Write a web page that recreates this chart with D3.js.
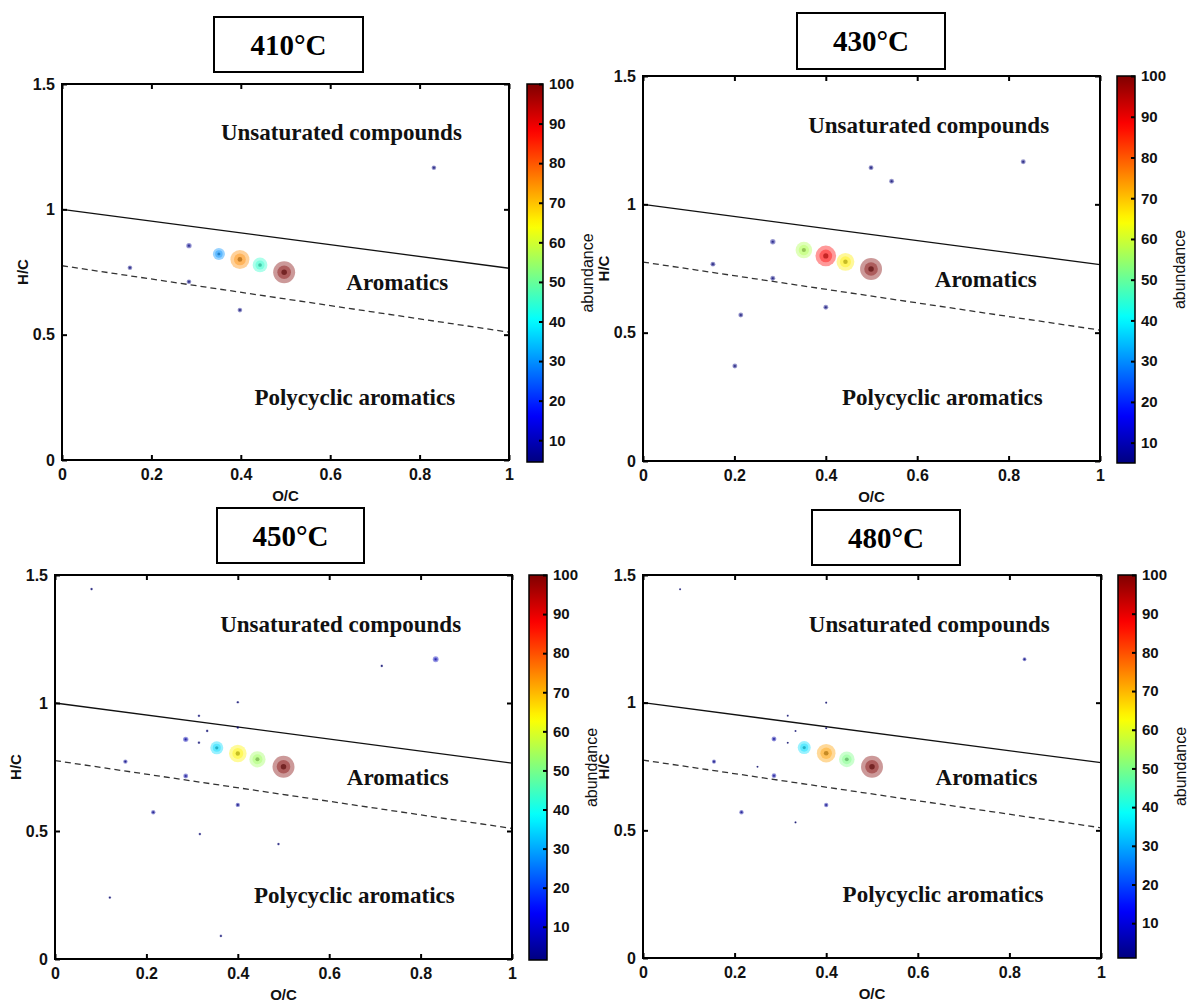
<!DOCTYPE html>
<html>
<head>
<meta charset="utf-8">
<script src="https://cdn.jsdelivr.net/npm/d3@7"></script>
<style>
  html, body { margin: 0; padding: 0; background: #fff; }
  svg { display: block; }
</style>
</head>
<body>
<svg id="chart" width="1188" height="1003"></svg>
<script>
// ---------------- DATA ----------------
const panelTitles = ["410°C", "430°C", "450°C", "480°C"];

const oc410 = [0.284, 0.152, 0.284, 0.398, 0.832, 0.351, 0.398, 0.443, 0.497];
const hc410 = [0.855, 0.767, 0.711, 0.598, 1.166, 0.822, 0.800, 0.778, 0.749];
const ab410 = [6, 4.5, 4.5, 4.5, 4.5, 30, 75, 45, 100];

const oc430 = [0.284, 0.153, 0.284, 0.400, 0.214, 0.201, 0.499, 0.544, 0.832, 0.352, 0.400, 0.443, 0.499];
const hc430 = [0.854, 0.767, 0.712, 0.599, 0.569, 0.370, 1.143, 1.090, 1.166, 0.822, 0.799, 0.776, 0.748];
const ab430 = [6, 5, 5, 5, 5, 5, 5, 5, 5, 57, 88, 66, 100];

const oc450 = [0.080, 0.400, 0.315, 0.333, 0.400, 0.286, 0.315, 0.154, 0.286, 0.215, 0.400, 0.317, 0.489, 0.120, 0.363, 0.833, 0.715, 0.354, 0.400, 0.443, 0.500];
const hc450 = [1.445, 1.003, 0.950, 0.891, 0.904, 0.858, 0.845, 0.771, 0.715, 0.573, 0.602, 0.488, 0.449, 0.240, 0.090, 1.171, 1.145, 0.825, 0.803, 0.780, 0.751];
const ab450 = [1.5, 1.5, 1.5, 1.5, 1.5, 6, 1.5, 4, 5, 4, 4, 1.5, 1.5, 1.5, 1.5, 7, 1.5, 35, 64, 54, 100];

const oc480 = [0.081, 0.400, 0.316, 0.333, 0.400, 0.286, 0.316, 0.155, 0.250, 0.286, 0.215, 0.400, 0.333, 0.833, 0.352, 0.400, 0.445, 0.500];
const hc480 = [1.444, 1.000, 0.949, 0.889, 0.900, 0.858, 0.843, 0.769, 0.749, 0.714, 0.571, 0.599, 0.531, 1.170, 0.824, 0.802, 0.778, 0.749];
const ab480 = [1, 1, 1, 1, 1, 5, 1, 3.5, 1, 4.5, 4, 4, 1, 3, 35, 72, 50, 100];

const xTicks = [0, 0.2, 0.4, 0.6, 0.8, 1];
const yTicks = [0, 0.5, 1, 1.5];
const cbTicks = [10, 20, 30, 40, 50, 60, 70, 80, 90, 100];
const xLabel = "O/C", yLabel = "H/C", cbLabel = "abundance";
const regionLabels = ["Unsaturated compounds", "Aromatics", "Polycyclic aromatics"];

// boundary lines (O/C, H/C)
const solidLineOC = [0, 1], solidLineHC = [1.0, 0.765];
const dashedLineOC = [0, 1], dashedLineHC = [0.775, 0.51];

// ---------------- LAYOUT ----------------
const layout = [
  { plot: {x0: 62,  x1: 509,  y0: 84,  y1: 460}, cb: {x: 527,  w: 16, y0: 84,  y1: 462}, box: {x: 214, y: 17,  w: 149, h: 55} },
  { plot: {x0: 643, x1: 1100, y0: 76,  y1: 461}, cb: {x: 1117, w: 18, y0: 76,  y1: 463}, box: {x: 797, y: 13,  w: 148, h: 56} },
  { plot: {x0: 55,  x1: 512,  y0: 575, y1: 959}, cb: {x: 529,  w: 18, y0: 575, y1: 960}, box: {x: 217, y: 508, w: 147, h: 55} },
  { plot: {x0: 643, x1: 1101, y0: 575, y1: 958}, cb: {x: 1118, w: 18, y0: 575, y1: 958}, box: {x: 812, y: 510, w: 148, h: 55} }
];
const regionPos = [[0.625, 1.31], [0.75, 0.71], [0.655, 0.25]];

const datasets = [
  {oc: oc410, hc: hc410, ab: ab410},
  {oc: oc430, hc: hc430, ab: ab430},
  {oc: oc450, hc: hc450, ab: ab450},
  {oc: oc480, hc: hc480, ab: ab480}
];

// jet colormap
function jet(t) {
  const c = v => Math.max(0, Math.min(1, v));
  return d3.rgb(255 * c(1.5 - Math.abs(4 * t - 3)),
                255 * c(1.5 - Math.abs(4 * t - 2)),
                255 * c(1.5 - Math.abs(4 * t - 1)));
}

const svg = d3.select("#chart");
const defs = svg.append("defs");
const sansFont = "'Liberation Sans', Arial, sans-serif";
const serifFont = "'Liberation Serif', 'Times New Roman', serif";
const rScale = d3.scaleSqrt().domain([0, 100]).range([0, 11]);

layout.forEach((L, i) => {
  const D = datasets[i];
  const P = L.plot;
  const g = svg.append("g");
  const x = d3.scaleLinear().domain([0, 1]).range([P.x0, P.x1]);
  const y = d3.scaleLinear().domain([0, 1.5]).range([P.y1, P.y0]);
  const cmin = d3.min(D.ab);
  const color = d3.scaleSequential(jet).domain([cmin, 100]);

  // title box
  g.append("rect").attr("x", L.box.x).attr("y", L.box.y).attr("width", L.box.w).attr("height", L.box.h)
    .attr("fill", "#fff").attr("stroke", "#000").attr("stroke-width", 2);
  g.append("text").attr("x", L.box.x + L.box.w / 2).attr("y", L.box.y + L.box.h / 2 + 10)
    .attr("text-anchor", "middle").attr("font-family", serifFont).attr("font-weight", "bold")
    .attr("font-size", 29).text(panelTitles[i]);

  // boundary lines
  const line = d3.line().x(d => x(d[0])).y(d => y(d[1]));
  g.append("path").attr("d", line(d3.zip(solidLineOC, solidLineHC)))
    .attr("fill", "none").attr("stroke", "#111").attr("stroke-width", 1.3);
  g.append("path").attr("d", line(d3.zip(dashedLineOC, dashedLineHC)))
    .attr("fill", "none").attr("stroke", "#333").attr("stroke-width", 1.3).attr("stroke-dasharray", "6,4");

  // region labels
  regionLabels.forEach((t, k) => {
    g.append("text").attr("x", x(regionPos[k][0])).attr("y", y(regionPos[k][1]) + 8)
      .attr("text-anchor", "middle").attr("font-family", serifFont).attr("font-weight", "bold")
      .attr("font-size", 23).attr("fill", "#111").text(t);
  });

  // points
  const pts = d3.range(D.oc.length).map(j => ({oc: D.oc[j], hc: D.hc[j], ab: D.ab[j]}))
    .sort((a, b) => a.ab - b.ab);
  const pg = g.append("g");
  pts.forEach(p => {
    const cx = x(p.oc), cy = y(p.hc), r = rScale(p.ab), c = color(p.ab);
    pg.append("circle").attr("cx", cx).attr("cy", cy).attr("r", r).attr("fill", c).attr("fill-opacity", 0.4);
    pg.append("circle").attr("cx", cx).attr("cy", cy).attr("r", r * 0.62).attr("fill", c).attr("fill-opacity", 0.4);
    pg.append("circle").attr("cx", cx).attr("cy", cy).attr("r", Math.max(0.8, r * 0.25))
      .attr("fill", d3.rgb(c).darker(1.3)).attr("fill-opacity", 0.6);
  });

  // axes
  const axB = g.append("g").attr("transform", `translate(0,${P.y1})`)
    .call(d3.axisBottom(x).tickValues(xTicks).tickSizeInner(-5).tickSizeOuter(0).tickPadding(9).tickFormat(d3.format("")));
  const axL = g.append("g").attr("transform", `translate(${P.x0},0)`)
    .call(d3.axisLeft(y).tickValues(yTicks).tickSizeInner(-5).tickSizeOuter(0).tickPadding(7).tickFormat(d3.format("")));
  const axT = g.append("g").attr("transform", `translate(0,${P.y0})`)
    .call(d3.axisTop(x).tickValues(xTicks).tickSizeInner(-5).tickSizeOuter(0).tickFormat(""));
  const axR = g.append("g").attr("transform", `translate(${P.x1},0)`)
    .call(d3.axisRight(y).tickValues(yTicks).tickSizeInner(-5).tickSizeOuter(0).tickFormat(""));
  [axB, axL, axT, axR].forEach(a => {
    a.select(".domain").remove();
    a.selectAll("line").attr("stroke", "#000").attr("stroke-width", 2);
    a.selectAll("text").attr("font-family", sansFont).attr("font-weight", "bold")
      .attr("font-size", 16).attr("fill", "#111");
  });
  g.append("rect").attr("x", P.x0).attr("y", P.y0).attr("width", P.x1 - P.x0).attr("height", P.y1 - P.y0)
    .attr("fill", "none").attr("stroke", "#000").attr("stroke-width", 2);

  // axis labels
  g.append("text").attr("x", (P.x0 + P.x1) / 2).attr("y", P.y1 + 41)
    .attr("text-anchor", "middle").attr("font-family", sansFont).attr("font-weight", "bold")
    .attr("font-size", 15).attr("fill", "#111").text(xLabel);
  g.append("text").attr("transform", `translate(${P.x0 - 34},${(P.y0 + P.y1) / 2}) rotate(-90)`)
    .attr("text-anchor", "middle").attr("font-family", sansFont).attr("font-weight", "bold")
    .attr("font-size", 15).attr("fill", "#111").text(yLabel);

  // colorbar
  const C = L.cb;
  const gid = "jetgrad" + i;
  const grad = defs.append("linearGradient").attr("id", gid)
    .attr("x1", 0).attr("y1", 1).attr("x2", 0).attr("y2", 0);
  d3.range(0, 1.0001, 0.02).forEach(t => {
    grad.append("stop").attr("offset", t).attr("stop-color", jet(t));
  });
  g.append("rect").attr("x", C.x).attr("y", C.y0).attr("width", C.w).attr("height", C.y1 - C.y0)
    .attr("fill", `url(#${gid})`).attr("stroke", "#000").attr("stroke-width", 1.5);
  const cy = d3.scaleLinear().domain([cmin, 100]).range([C.y1, C.y0]);
  const axC = g.append("g").attr("transform", `translate(${C.x + C.w},0)`)
    .call(d3.axisRight(cy).tickValues(cbTicks).tickSizeInner(-4).tickSizeOuter(0).tickPadding(6));
  axC.select(".domain").remove();
  axC.selectAll("line").attr("stroke", "#000").attr("stroke-width", 2);
  axC.selectAll("text").attr("font-family", sansFont).attr("font-weight", "bold")
    .attr("font-size", 15).attr("fill", "#111");
  g.append("text").attr("transform", `translate(${C.x + C.w + 50},${(C.y0 + C.y1) / 2}) rotate(-90)`)
    .attr("text-anchor", "middle").attr("font-family", sansFont)
    .attr("font-size", 16).attr("fill", "#111").text(cbLabel);
});
</script>
</body>
</html>
